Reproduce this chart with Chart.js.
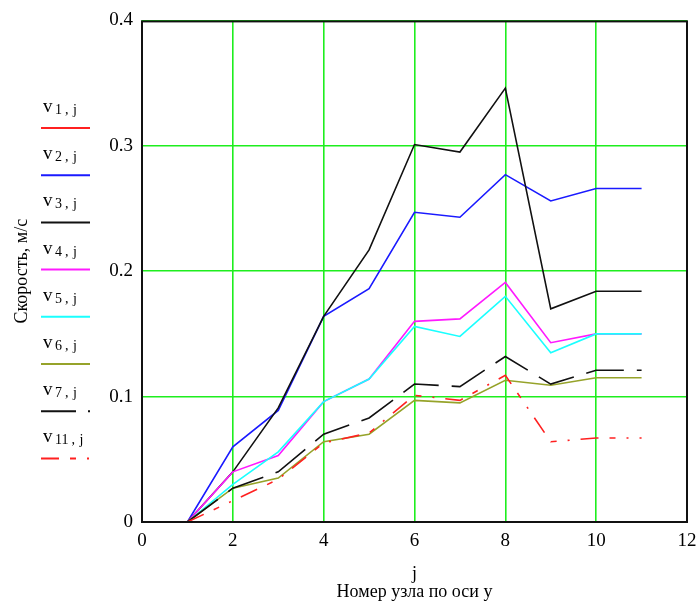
<!DOCTYPE html>
<html>
<head>
<meta charset="utf-8">
<script src="https://cdn.jsdelivr.net/npm/chart.js@4/dist/chart.umd.min.js"></script>
<style>
  html, body { margin: 0; padding: 0; background: #fff; }
  #wrap { width: 697px; height: 601px; position: relative; }
</style>
</head>
<body>
<div id="wrap"><canvas id="speedChart"></canvas></div>
<script>
// node numbers along the y axis
const j = [1, 2, 3, 4, 5, 6, 7, 8, 9, 10, 11];

// speeds, m/s
const v1  = [0, 0, 0, 0, 0, 0, 0, 0, 0, 0, 0];
const v2  = [0, 0.060, 0.089, 0.164, 0.186, 0.247, 0.243, 0.277, 0.256, 0.266, 0.266];
const v3  = [0, 0.040, 0.091, 0.164, 0.217, 0.301, 0.295, 0.346, 0.170, 0.184, 0.184];
const v4  = [0, 0.040, 0.053, 0.096, 0.114, 0.160, 0.162, 0.191, 0.143, 0.150, 0.150];
const v5  = [0, 0.030, 0.056, 0.096, 0.114, 0.156, 0.148, 0.180, 0.135, 0.150, 0.150];
const v6  = [0, 0.027, 0.035, 0.064, 0.070, 0.097, 0.095, 0.113, 0.109, 0.115, 0.115];
const v7  = [0, 0.027, 0.040, 0.070, 0.083, 0.110, 0.108, 0.132, 0.110, 0.121, 0.121];
const v11 = [0, 0.017, 0.034, 0.063, 0.071, 0.101, 0.097, 0.117, 0.064, 0.067, 0.067];

const seriesNames = ['1', '2', '3', '4', '5', '6', '7', '11'];
const xTicks = [0, 2, 4, 6, 8, 10, 12];
const yTicks = [0, 0.1, 0.2, 0.3, 0.4];

const serif = "'Liberation Serif', 'DejaVu Serif', serif";
const gridGreen = '#1eee1e';

const styles = [
    { color: '#ff2020', dash: [] },
    { color: '#1a1aff', dash: [] },
    { color: '#111111', dash: [] },
    { color: '#ff1aff', dash: [] },
    { color: '#1affff', dash: [] },
    { color: '#96a32a', dash: [] },
    { color: '#111111', dash: [38, 13] },
    { color: '#ff2020', dash: [18, 11, 6, 11, 2, 11] }
];

const allSeries = [v1, v2, v3, v4, v5, v6, v7, v11];

// later traces sit on top, like in Mathcad
const datasets = allSeries.map((arr, i) => ({
    label: 'v' + seriesNames[i] + ',j',
    data: j.map((x, k) => ({ x: x, y: arr[k] })),
    borderColor: styles[i].color,
    borderDash: styles[i].dash,
    borderWidth: 1.6,
    pointRadius: 0,
    tension: 0,
    fill: false,
    order: allSeries.length - i
}));

// Mathcad style legend: label above a line sample
const sideLegend = {
    id: 'sideLegend',
    afterDraw(chart) {
        const ctx = chart.ctx;
        ctx.save();
        seriesNames.forEach((name, i) => {
            const lineY = 128 + i * 47.2;
            ctx.fillStyle = '#000';
            ctx.textBaseline = 'alphabetic';
            ctx.font = '19px ' + serif;
            ctx.fillText('v', 43, lineY - 16);
            ctx.font = '14px ' + serif;
            ctx.fillText(name, 55, lineY - 14);
            const after = 55 + ctx.measureText(name).width;
            ctx.fillText(',', after + 3, lineY - 14);
            ctx.fillText('j', after + 11, lineY - 14);

            ctx.strokeStyle = styles[i].color;
            ctx.lineWidth = 2;
            ctx.setLineDash(i === 6 ? [35, 12] : (i === 7 ? [18, 11, 6, 11, 2, 11] : []));
            ctx.beginPath();
            ctx.moveTo(41, lineY);
            ctx.lineTo(90, lineY);
            ctx.stroke();
        });
        ctx.restore();
    }
};

// black frame drawn over the plot edges
const frame = {
    id: 'frame',
    afterDatasetsDraw(chart) {
        const a = chart.chartArea;
        const ctx = chart.ctx;
        ctx.save();
        ctx.strokeStyle = '#111';
        ctx.lineWidth = 2;
        ctx.setLineDash([]);
        ctx.strokeRect(a.left, a.top + 1, a.right - a.left, a.bottom - a.top - 1);
        ctx.restore();
    }
};

new Chart(document.getElementById('speedChart'), {
    type: 'line',
    data: { datasets: datasets },
    plugins: [sideLegend, frame],
    options: {
        responsive: true,
        maintainAspectRatio: false,
        animation: false,
        layout: { padding: { top: 18, right: 10, left: 0, bottom: 0 } },
        plugins: {
            legend: { display: false },
            tooltip: { enabled: false }
        },
        scales: {
            x: {
                type: 'linear',
                min: 0,
                max: 12,
                afterFit: (s) => { s.height = 79; s.paddingRight = 0; s.paddingLeft = 0; },
                afterBuildTicks: (s) => { s.ticks = xTicks.map(v => ({ value: v })); },
                grid: { color: gridGreen, lineWidth: 1.6, drawTicks: false },
                border: { display: false },
                ticks: {
                    color: '#000',
                    padding: 8,
                    maxRotation: 0,
                    font: { family: serif, size: 19 }
                },
                title: {
                    display: true,
                    text: ['j', 'Номер узла по оси y'],
                    color: '#000',
                    font: { family: serif, size: 18, lineHeight: '18px' },
                    padding: { top: 0, bottom: 0 }
                }
            },
            y: {
                min: 0,
                max: 0.4,
                afterFit: (s) => { s.width = 142; },
                afterBuildTicks: (s) => { s.ticks = yTicks.map(v => ({ value: v })); },
                grid: { color: gridGreen, lineWidth: 1.6, drawTicks: false },
                border: { display: false },
                ticks: {
                    color: '#000',
                    padding: 9,
                    font: { family: serif, size: 19 },
                    callback: (v) => v === 0 ? '0' : v.toFixed(1)
                },
                title: {
                    display: true,
                    text: 'Скорость, м/с',
                    color: '#000',
                    font: { family: serif, size: 18, lineHeight: 1.2 },
                    padding: { top: 11, bottom: 0 }
                }
            }
        }
    }
});
</script>
</body>
</html>
